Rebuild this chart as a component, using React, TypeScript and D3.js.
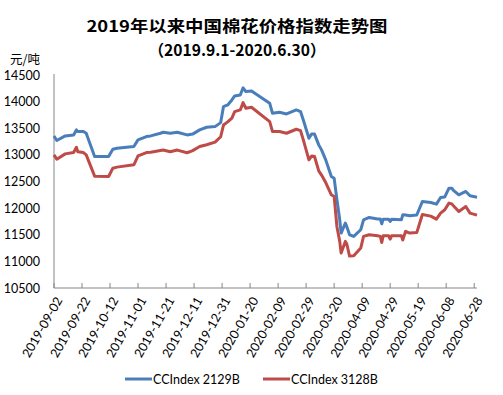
import React from "react"
import * as d3 from "d3"

// trade dates and index values (元/吨)
const dates = [
	"2019-09-02", "2019-09-04", "2019-09-10", "2019-09-16", "2019-09-18", "2019-09-19",
	"2019-09-23", "2019-09-25", "2019-10-01", "2019-10-11", "2019-10-14", "2019-10-17",
	"2019-10-29", "2019-11-01", "2019-11-07", "2019-11-10", "2019-11-17", "2019-11-19",
	"2019-11-24", "2019-11-29", "2019-12-06", "2019-12-10", "2019-12-15", "2019-12-20",
	"2019-12-26", "2019-12-30", "2020-01-01", "2020-01-04", "2020-01-07", "2020-01-09",
	"2020-01-13", "2020-01-15", "2020-01-17", "2020-01-21", "2020-02-03", "2020-02-05",
	"2020-02-10", "2020-02-15", "2020-02-22", "2020-02-25", "2020-02-27", "2020-03-02",
	"2020-03-04", "2020-03-06", "2020-03-09", "2020-03-11", "2020-03-14", "2020-03-18",
	"2020-03-20", "2020-03-22", "2020-03-24", "2020-03-25", "2020-03-28", "2020-03-29",
	"2020-03-31", "2020-04-03", "2020-04-08", "2020-04-10", "2020-04-14", "2020-04-20",
	"2020-04-22", "2020-04-23", "2020-04-24", "2020-04-28", "2020-04-29", "2020-04-30",
	"2020-05-07", "2020-05-08", "2020-05-10", "2020-05-13", "2020-05-18", "2020-05-22",
	"2020-05-28", "2020-06-01", "2020-06-04", "2020-06-07", "2020-06-10", "2020-06-12",
	"2020-06-13", "2020-06-17", "2020-06-22", "2020-06-25", "2020-06-30"
];

const index2129B = [
	13356, 13269, 13356, 13375, 13469, 13440,
	13438, 13406, 12969, 12969, 13106, 13125,
	13156, 13281, 13344, 13356, 13406, 13425,
	13406, 13425, 13375, 13390, 13469, 13519,
	13531, 13606, 13906, 13938, 14031, 14106,
	14125, 14260, 14188, 14200, 13969, 13781,
	13800, 13769, 13844, 13813, 13656, 13313,
	13394, 13390, 13188, 13094, 12906, 12594,
	12560, 12156, 11781, 11531, 11719, 11656,
	11500, 11469, 11594, 11781, 11825, 11794,
	11794, 11706, 11790, 11790, 11750, 11790,
	11780, 11875, 11870, 11856, 11870, 12125,
	12106, 12075, 12200, 12210, 12375, 12375,
	12340, 12250, 12313, 12231, 12206
];

const index3128B = [
	13000, 12919, 13019, 13044, 13144, 13060,
	13044, 13000, 12600, 12594, 12750, 12770,
	12813, 12981, 13044, 13050, 13081, 13090,
	13060, 13090, 13040, 13080, 13156, 13190,
	13240, 13340, 13560, 13620, 13690, 13813,
	13844, 13981, 13875, 13894, 13625, 13438,
	13438, 13406, 13481, 13456, 13281, 12906,
	12981, 12970, 12700, 12620, 12480, 12250,
	12219, 11650, 11375, 11156, 11375, 11331,
	11100, 11106, 11250, 11469, 11500, 11480,
	11469, 11356, 11480, 11480, 11419, 11480,
	11480, 11400, 11563, 11531, 11540, 11880,
	11850, 11794, 11906, 11969, 12094, 12080,
	12050, 11938, 12031, 11906, 11869
];

const yTicks = [10500, 11000, 11500, 12000, 12500, 13000, 13500, 14000, 14500];

const SERIES = [
	{ name: "CCIndex 2129B", values: index2129B, color: "#4a7ebb" },
	{ name: "CCIndex 3128B", values: index3128B, color: "#be4b48" }
];

const MARGIN = { left: 54, top: 75, right: 26, bottom: 107 };
const WIDTH = 503, HEIGHT = 395;
const LATIN = "Lato, 'Noto Sans', sans-serif";
const CJK = "'Noto Sans CJK SC', sans-serif";

export default function App() {
	const parse = d3.timeParse("%Y-%m-%d");
	const fmt = d3.timeFormat("%Y-%m-%d");
	const start = parse("2019-09-02"), end = parse("2020-06-30");

	const x = d3.scaleTime()
		.domain([start, end])
		.range([MARGIN.left, WIDTH - MARGIN.right]);
	const y = d3.scaleLinear()
		.domain([10500, 14500])
		.range([HEIGHT - MARGIN.bottom, MARGIN.top]);

	const xTicks = d3.timeDay.range(start, d3.timeDay.offset(end, 1), 20);
	const points = dates.map(parse);

	const line = d3.line()
		.x(d => x(d[0]))
		.y(d => y(d[1]));

	const bottom = y(10500);

	return (
		<svg width={WIDTH} height={HEIGHT} style={{ display: "block", position: "absolute", left: 0, top: 0 }}>
			<rect width={WIDTH} height={HEIGHT} fill="#fff" />

			<text x={237} y={32} textAnchor="middle" fontFamily={CJK} fontWeight="bold" fontSize={16}
				textLength={301} lengthAdjust="spacingAndGlyphs" fill="#000">2019年以来中国棉花价格指数走势图</text>
			<text x={237} y={56} textAnchor="middle" fontFamily={CJK} fontWeight="bold" fontSize={16}
				textLength={177} lengthAdjust="spacingAndGlyphs" fill="#000">（2019.9.1-2020.6.30）</text>

			<text x={10} y={64} fontFamily={CJK} fontSize={12.5} fill="#000">元/吨</text>

			{yTicks.map(t => (
				<text key={t} x={40} y={y(t)} dy="0.36em" textAnchor="end"
					fontFamily={LATIN} fontSize={12.5} fill="#000">{t}</text>
			))}

			<line x1={MARGIN.left} x2={MARGIN.left} y1={MARGIN.top - 1} y2={bottom} stroke="#868686" />
			<line x1={MARGIN.left} x2={WIDTH - MARGIN.right} y1={bottom} y2={bottom} stroke="#868686" />

			{xTicks.map(t => (
				<g key={+t}>
					<line x1={x(t)} x2={x(t)} y1={bottom} y2={bottom - 5} stroke="#868686" />
					<text transform={`translate(${x(t) + 5},${bottom + 10}) rotate(-60)`}
						textAnchor="end" dy="0.36em" fontFamily={LATIN} fontSize={12.5} fill="#000">{fmt(t)}</text>
				</g>
			))}

			{SERIES.map(s => (
				<path key={s.name} d={line(points.map((p, i) => [p, s.values[i]]))}
					fill="none" stroke={s.color} strokeWidth={3} strokeLinejoin="round" />
			))}

			{SERIES.map((s, i) => (
				<g key={s.name} transform={`translate(${125 + i * 138},379)`}>
					<line x1={0} x2={27} stroke={s.color} strokeWidth={3} />
					<text x={28} dy="0.36em" fontFamily={LATIN} fontSize={12.5} fill="#000">{s.name}</text>
				</g>
			))}
		</svg>
	)
}
